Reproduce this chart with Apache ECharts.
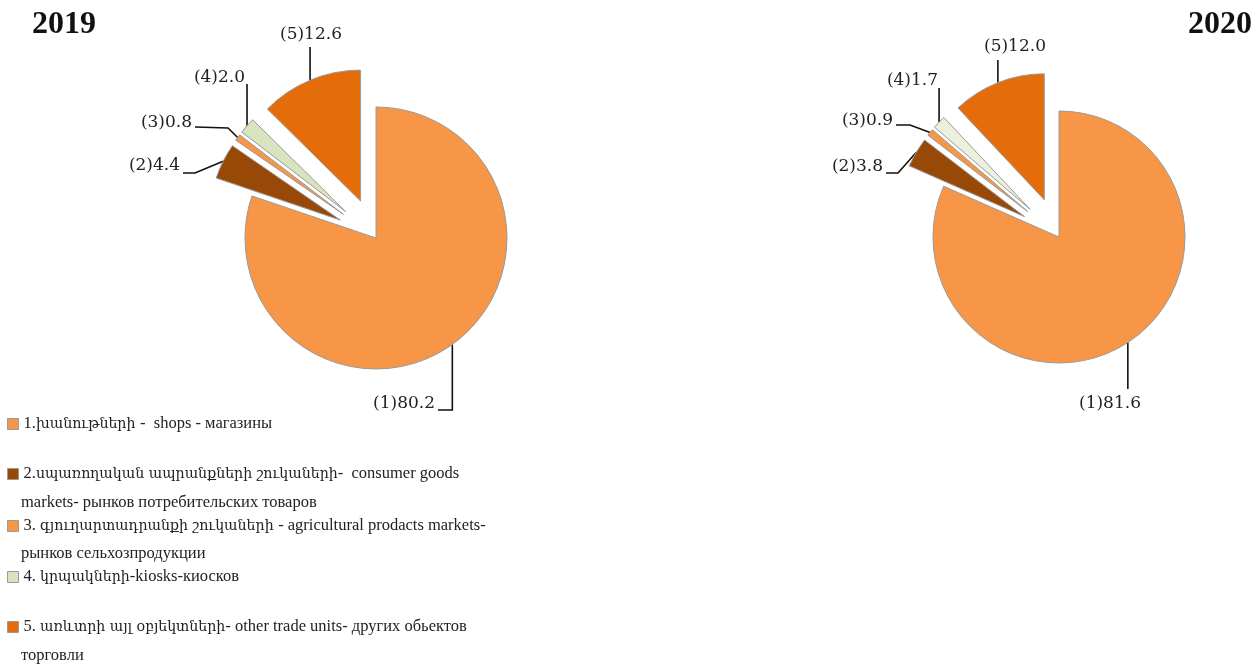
<!DOCTYPE html>
<html>
<head>
<meta charset="utf-8">
<script src="https://cdn.jsdelivr.net/npm/echarts@6/dist/echarts.min.js"></script>
<style>
html,body{margin:0;padding:0;background:#fff;}
#c{width:1260px;height:666px;}
</style>
</head>
<body>
<div id="c"></div>
<script>
// ---- data ----
var categories = [
  "1.խանութների -  shops - магазины",
  "2.սպառողական ապրանքների շուկաների-  consumer goods\nmarkets- рынков потребительских товаров",
  "3. գյուղարտադրանքի շուկաների - agricultural prodacts markets-\nрынков сельхозпродукции",
  "4. կրպակների-kiosks-киосков",
  "5. առևտրի այլ օբյեկտների- other trade units- других обьектов\nторговли"
];
var years = ["2019", "2020"];
var values2019 = [80.2, 4.4, 0.8, 2.0, 12.6];
var values2020 = [81.6, 3.8, 0.9, 1.7, 12.0];
var colors2019 = ["#F79646", "#984807", "#F79646", "#D7E4BD", "#E46C0A"];
var colors2020 = ["#F79646", "#984807", "#F79646", "#EBF1DE", "#E46C0A"];
var exploded = [false, true, true, true, true];

// ---- layout (styles / positions only) ----
var FONT = "'DejaVu Serif', 'Liberation Serif', serif";
var LFONT = "'Liberation Serif', 'DejaVu Serif', serif";
var EXPLODE = 40;
// label anchor + leader-line path after the slice edge point
var labelLayout2019 = [
  {x: 435, y: 404, align: 'right', path: function (p) { return [[p[0], 410], [438, 410]]; }},
  {x: 180, y: 166, align: 'right', path: function (p) { return [[195, 173], [183, 173]]; }},
  {x: 192, y: 123, align: 'right', path: function (p) { return [[228, 128], [195, 127]]; }},
  {x: 245, y: 78, align: 'right', path: function (p) { return [[p[0], 84]]; }},
  {x: 311, y: 35, align: 'center', path: function (p) { return [[p[0], 47]]; }}
];
var labelLayout2020 = [
  {x: 1110, y: 404, align: 'center', path: function (p) { return [[p[0], 389]]; }},
  {x: 883, y: 167, align: 'right', path: function (p) { return [[898, 173], [886, 173]]; }},
  {x: 893, y: 121, align: 'right', path: function (p) { return [[910, 125], [896, 125]]; }},
  {x: 938, y: 81, align: 'right', path: function (p) { return [[p[0], 88]]; }},
  {x: 1015, y: 47, align: 'center', path: function (p) { return [[p[0], 60]]; }}
];
var legendCenters = [424, 474, 526, 577, 627];
var contLineY = [null, 503, 554, null, 656];

var HIDDEN = {color: 'rgba(0,0,0,0)', borderWidth: 0};

// one pie series showing only slice k (others transparent), shifted along its mid-angle if exploded
function sliceSeries(values, colors, center, radius, layout, k) {
  var total = values.reduce(function (a, b) { return a + b; }, 0);
  var before = 0;
  for (var i = 0; i < k; i++) before += values[i];
  var mid = (before + values[k] / 2) / total * 2 * Math.PI; // clockwise from top
  var d = exploded[k] ? EXPLODE : 0;
  var c = [center[0] + Math.sin(mid) * d, center[1] - Math.cos(mid) * d];
  return {
    type: 'pie',
    center: c,
    radius: radius,
    startAngle: 90,
    clockwise: true,
    avoidLabelOverlap: false,
    animation: false,
    silent: true,
    emphasis: {disabled: true},
    itemStyle: {borderColor: '#9a9a9a', borderWidth: 1},
    label: {
      show: true,
      position: 'outside',
      color: '#222',
      fontFamily: FONT,
      fontSize: 17,
      formatter: function (p) { return '(' + (p.dataIndex + 1) + ')' + p.value.toFixed(1); }
    },
    labelLine: {show: true, length: 10, length2: 10, lineStyle: {color: '#111', width: 1.6}},
    labelLayout: function (params) {
      var L = layout[params.dataIndex];
      var pts = params.labelLinePoints;
      var p0 = pts ? pts[0] : [L.x, L.y];
      return {
        x: L.x, y: L.y, align: L.align, verticalAlign: 'middle',
        labelLinePoints: [p0].concat(L.path(p0))
      };
    },
    data: values.map(function (v, i) {
      if (i === k) return {name: categories[i], value: v, itemStyle: {color: colors[i]}};
      return {name: categories[i], value: v, itemStyle: HIDDEN,
              label: {show: false}, labelLine: {show: false}};
    })
  };
}

function yearSeries(values, colors, center, radius, layout) {
  return values.map(function (v, k) {
    return sliceSeries(values, colors, center, radius, layout, k);
  });
}

// legend rich text: Armenian runs slightly smaller (DejaVu fallback is wide)
function richFirstLine(name) {
  var s = name.split('\n')[0];
  var out = '', run = '', cur = null;
  for (var i = 0; i < s.length; i++) {
    var ch = s[i];
    var t = /[\u0530-\u058F]/.test(ch) ? 'a' : (/\s/.test(ch) && cur ? cur : 'l');
    if (t !== cur && run) { out += '{' + cur + '|' + run + '}'; run = ''; }
    cur = t; run += ch;
  }
  if (run) out += '{' + cur + '|' + run + '}';
  return out;
}

var legends = categories.map(function (name, i) {
  return {
    data: [{name: name, itemStyle: {color: colors2019[i], borderColor: '#9a9a9a', borderWidth: 1}}],
    orient: 'vertical',
    left: 7,
    top: legendCenters[i] - 10,
    padding: 0,
    itemWidth: 11,
    itemHeight: 11,
    selectedMode: false,
    icon: 'rect',
    textStyle: {
      fontFamily: LFONT, fontSize: 16.5, color: '#222', lineHeight: 20,
      rich: {
        a: {fontFamily: "'DejaVu Serif', serif", fontSize: 14.2, color: '#222', lineHeight: 20},
        l: {fontFamily: LFONT, fontSize: 16.5, color: '#222', lineHeight: 20}
      }
    },
    formatter: richFirstLine
  };
});

var graphics = [];
categories.forEach(function (name, i) {
  var parts = name.split('\n');
  if (parts.length > 1) {
    graphics.push({
      type: 'text',
      left: 21,
      top: contLineY[i] - 10,
      style: {text: parts[1], font: '16.5px ' + LFONT, fill: '#222', lineHeight: 20}
    });
  }
});

var chart = echarts.init(document.getElementById('c'), null, {renderer: 'canvas'});
chart.setOption({
  backgroundColor: '#fff',
  animation: false,
  title: [
    {text: years[0], left: 32, top: 9, padding: 0,
     textStyle: {fontFamily: LFONT, fontWeight: 'bold', fontSize: 32, color: '#111'}},
    {text: years[1], right: 8, top: 9, padding: 0,
     textStyle: {fontFamily: LFONT, fontWeight: 'bold', fontSize: 32, color: '#111'}}
  ],
  legend: legends,
  graphic: graphics,
  series: yearSeries(values2019, colors2019, [376, 238], 131, labelLayout2019)
    .concat(yearSeries(values2020, colors2020, [1059, 237], 126, labelLayout2020))
});
</script>
</body>
</html>
